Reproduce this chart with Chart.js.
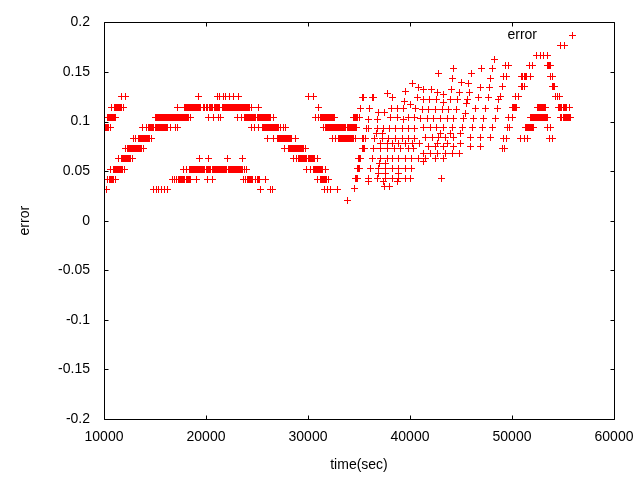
<!DOCTYPE html>
<html>
<head>
<meta charset="utf-8">
<script src="https://cdn.jsdelivr.net/npm/chart.js@4.4.1/dist/chart.umd.min.js"></script>
<style>
  html, body { margin: 0; padding: 0; background: #ffffff; }
  #wrap { width: 640px; height: 480px; }
</style>
</head>
<body>
<div id="wrap"><canvas id="c" width="640" height="480"></canvas></div>
<script>
// ---------------- data ----------------
const seriesName = "error";
const xAxisTitle = "time(sec)";
const yAxisTitle = "error";
const xTickValues = [10000, 20000, 30000, 40000, 50000, 60000];
const yTickValues = [-0.2, -0.15, -0.1, -0.05, 0, 0.05, 0.1, 0.15, 0.2];

// quantised error levels and the times (s) at which each level was recorded
const timesAt0208 = [33860];
const timesAt0313 = [10290, 14810, 15110, 15300, 15600, 15890, 16190, 25320, 26300, 26500, 31600, 31900, 32190, 32880];
const timesAt0417 = [10300, 10500, 10600, 10700, 10800, 10900, 11100,
  16700, 16900, 17100, 17300, 17400, 17500, 17600, 17700, 17800, 17900, 18100, 18200, 18300, 18400, 18500,
  19100, 20100, 20600, 23700, 23900, 24100, 24200, 24300, 24400, 24500, 24600, 24900, 25000, 25100, 25200, 25800,
  30900, 31200, 31300, 31400, 31500, 31600, 31700, 31800, 32000];
const timesAt0521 = [10600, 10900, 11000, 11100, 11200, 11300, 11400, 11500, 11600, 11700, 11800, 12000,
  17800, 18100, 18400, 18500, 18600, 18700, 18800, 18900, 19000, 19100, 19200, 19300, 19400, 19500, 19600, 19700,
  19800, 19900, 20000, 20100, 20200, 20300, 20400, 20600, 20700, 20800, 20900, 21000, 21100, 21200, 21300, 21400,
  21500, 21600, 21700, 21800, 21900, 22000, 22200, 22300, 22400, 22500, 22600, 22700, 22800, 22900, 23000, 23100,
  23200, 23300, 23400, 23500, 23600, 23800, 24000,
  29900, 30200, 30500, 30600, 30700, 30800, 30900, 31000, 31100, 31200, 31300, 31400, 31700];
const timesAt0625 = [11400, 11700, 11800, 11900, 12000, 12100, 12200, 12300, 12400, 12500, 12600, 12800,
  19400, 20200, 22100, 23600,
  28600, 28900, 29100, 29200, 29300, 29400, 29500, 29600, 29700, 29800, 29900, 30000, 30100, 30200, 30300, 30400,
  30500, 30600, 30900];
const timesAt0729 = [12100, 12300, 12400, 12500, 12600, 12700, 12800, 12900, 13000, 13100, 13200, 13300, 13400,
  13500, 13600, 13700, 13900,
  27700, 28100, 28200, 28300, 28400, 28500, 28600, 28700, 28800, 28900, 29000, 29100, 29200, 29300, 29400, 29500,
  29600, 29800, 49050, 49280];
const timesAt0833 = [12850, 13100, 13400, 13500, 13600, 13700, 13800, 13900, 14000, 14100, 14200, 14300, 14400,
  14500, 14700,
  26000, 26600, 27000, 27100, 27200, 27300, 27400, 27500, 27600, 27700, 27800, 27900, 28000, 28100, 28200, 28300,
  28400, 28800,
  32400, 32700, 33000, 33100, 33200, 33300, 33400, 33500, 33600, 33700, 33800, 33900, 34000, 34100, 34200, 34300,
  34400, 34500, 34700,
  49210, 49480, 50850, 51180, 51510, 53630, 53960];
const timesAt0938 = [10000, 10100, 10200, 10300, 10400, 10600, 13800, 14200,
  14400, 14500, 14600, 14700, 14800, 14900, 15000, 15100, 15200, 15300, 15400, 15500, 15600, 15700, 15800, 15900,
  16000, 16100, 16200, 16500, 17000, 17200,
  24500, 24800, 25100, 25500, 25600, 25700, 25800, 25900, 26000, 26100, 26200, 26300, 26400, 26500, 26600, 26700,
  26800, 26900, 27000, 27100, 27300, 27600, 27800,
  31500, 31700, 31800, 31900, 32000, 32100, 32200, 32300, 32400, 32500, 32600, 32700, 32800, 32900, 33000, 33100,
  33200, 33300, 33400, 33500, 33600, 33700, 33900, 34000, 34100, 34200, 34300, 34400, 34500, 34600, 34700, 34800,
  49550, 49800, 51300, 51400, 51500, 51600, 51700, 51800, 51900, 52000, 52100, 53470, 53800];
const timesAt1042 = [10300, 10400, 10500, 10600, 10700, 10800, 10900, 11000, 11100, 15000,
  15100, 15200, 15300, 15400, 15500, 15600, 15700, 15800, 15900, 16000, 16100, 16200, 16300, 16400, 16500, 16600,
  16700, 16800, 16900, 17000, 17100, 17200, 17300, 17400, 17500, 17600, 17700, 17800, 17900, 18000, 18100, 18200,
  18300, 18500, 20200, 20700, 21200, 21400, 23100, 23500,
  23800, 23900, 24000, 24100, 24200, 24300, 24400, 24500, 24600, 24700, 24800, 24900, 25000, 25100, 25200, 25300,
  25400, 25500, 25600, 25700, 25800, 25900, 26000, 26100, 26200, 26300, 26600,
  30700, 31000, 31200, 31300, 31400, 31500, 31600, 31700, 31800, 31900, 32000, 32100, 32200, 32300, 32400, 32500,
  32600, 34500, 34600, 34700, 34800, 34900, 35000,
  49700, 50040, 51800, 51900, 52000, 52100, 52200, 52300, 52400, 52500, 52600, 52700, 52800, 52900, 53000, 53100,
  53200, 53300, 53400, 53500, 54800, 54900, 55000, 55100, 55200, 55300, 55400, 55500, 55600, 55700];
const timesAt1146 = [10700, 11000, 11100, 11200, 11300, 11400, 11500, 11600, 11700, 11900, 17200,
  17900, 18000, 18100, 18200, 18300, 18400, 18500, 18600, 18700, 18800, 18900, 19000, 19100, 19200, 19300, 19400,
  19500, 19800, 19900, 20000, 20100, 20300, 20400, 20500, 20600, 20800, 20900, 21000, 21100, 21200, 21300,
  21600, 21700, 21800, 21900, 22000, 22100, 22200, 22300, 22400, 22500, 22600, 22700, 22800, 22900, 23000, 23100,
  23200, 23300, 23400, 23500, 23600, 23700, 23800, 23900, 24000, 24100, 24200, 24300, 24500, 25100, 31000,
  50040, 50100, 50200, 50300, 50400, 52500, 52600, 52700, 52800, 52900, 53000, 53100, 53200, 53300,
  54600, 54700, 54800, 54900, 55000, 55100, 55200, 55300, 55600];
const timesAt1250 = [11670, 12060, 19230, 21100, 21290, 21690, 21880, 22280, 22670, 23160, 30030, 30520,
  48890, 50360, 50590, 54290, 54450, 54610];
const timesAt1354 = [49050, 50920, 51050, 51180, 53960, 54100, 54190];
const timesAt1458 = [49210, 49480, 50950, 51050, 51180, 51300, 51440, 51830, 53730, 53960];
const timesAt1563 = [49380, 49700, 51670, 52000, 53470, 53550, 53630, 53720, 53800];
const timesAt1667 = [52420, 52750, 53080, 53470];
const timesAt1771 = [54780, 55100];

// middle stretch (35000–49000 s): individual readings, time and error paired by index
const midTimes = [
  40280, 40860, 39560, 37760, 35370, 35470, 36290, 36390, 38250, 40710, 39490, 40050,
  35140, 36050, 38180, 38740, 39390, 40540, 36940, 37530, 38090, 38740, 39880, 40470,
  35950, 36780, 39390, 35750, 35950, 36780, 37430, 37990, 38580, 39290, 39880, 40470,
  36680, 37270, 35340, 35440, 35630, 36540, 37270, 37920, 38580, 39290, 39880, 40470,
  37100, 37760, 38250, 38900, 39560, 40280, 40960,
  35340, 35460, 35560, 36390, 37100, 37760, 38480, 39070, 39820, 40370,
  34940, 35040, 35140, 36290, 37100, 37760, 38250, 38840, 39560, 40150, 40810,
  37010, 37590,
  34840, 34960, 35070, 36120, 36880, 37590, 38250, 38900, 39560, 40150,
  36940, 37590, 38840,
  34650, 34760, 34870, 35950, 36780, 37590, 38250, 38900, 39560, 40050,
  35900, 37430, 38740, 37530, 37990, 34580,
  48300, 44300, 47020, 48070, 42830, 46040, 44200, 47910, 45060, 45770,
  46920, 47810, 41360, 42110, 44080, 42670, 44890, 45870, 43320, 46760, 47680,
  41300, 41940, 42600, 43980, 44690, 45620, 48720, 43260, 45550,
  46430, 47410, 48620, 41200, 41850, 42500, 43160, 43810, 44570, 45450,
  41030, 41690, 42340, 43000, 43650, 44300, 45280, 46260, 47250, 48400,
  41360, 42010, 42600, 43320, 44140, 45130, 46110, 47090, 48070,
  43000, 43980, 44960,
  41520, 42180, 42830, 43490, 44300, 45940, 46920, 47910,
  42670, 43650, 44960,
  41850, 42500, 43320, 44300, 45940, 46920,
  41360, 42010, 42670, 43490, 44140, 44890,
  41520, 42500, 43320, 41300, 43090
];
const midErrors = [
  0.138, 0.134, 0.130, 0.128, 0.124, 0.124, 0.124, 0.124, 0.124, 0.124, 0.120, 0.117,
  0.113, 0.113, 0.113, 0.113, 0.113, 0.113, 0.1095, 0.1095, 0.1045, 0.1045, 0.1045, 0.1045,
  0.102, 0.102, 0.102, 0.093, 0.093, 0.093, 0.093, 0.093, 0.093, 0.093, 0.093, 0.093,
  0.0877, 0.0877, 0.0827, 0.0827, 0.0827, 0.0827, 0.0827, 0.0827, 0.0827, 0.0827, 0.0827, 0.0827,
  0.0777, 0.0777, 0.0777, 0.0777, 0.0777, 0.0777, 0.0777,
  0.0727, 0.0727, 0.0727, 0.0727, 0.0727, 0.0727, 0.0727, 0.0727, 0.0727, 0.0727,
  0.0626, 0.0626, 0.0626, 0.0626, 0.0626, 0.0626, 0.0626, 0.0626, 0.0626, 0.0626, 0.0626,
  0.0576, 0.0576,
  0.0526, 0.0526, 0.0526, 0.0526, 0.0526, 0.0526, 0.0526, 0.0526, 0.0526, 0.0526,
  0.0475, 0.0475, 0.0475,
  0.0425, 0.0425, 0.0425, 0.0425, 0.0425, 0.0425, 0.0425, 0.0425, 0.0425, 0.0425,
  0.0392, 0.0392, 0.0392, 0.0342, 0.0342, 0.0325,
  0.1621, 0.1531, 0.1531, 0.1531, 0.148, 0.148, 0.143, 0.143, 0.1397, 0.138,
  0.134, 0.134, 0.1324, 0.1324, 0.1324, 0.1296, 0.1296, 0.1296, 0.1273, 0.1246, 0.1246,
  0.1223, 0.1223, 0.1223, 0.1223, 0.1223, 0.1223, 0.1223, 0.1196, 0.1179,
  0.1129, 0.1129, 0.1129, 0.1119, 0.1119, 0.1119, 0.1119, 0.1119, 0.1119, 0.1078,
  0.1028, 0.1028, 0.1028, 0.1028, 0.1028, 0.1028, 0.1028, 0.1028, 0.1028, 0.1028,
  0.0945, 0.0945, 0.0945, 0.0945, 0.0945, 0.0945, 0.0945, 0.0945, 0.0945,
  0.0877, 0.0877, 0.0877,
  0.0844, 0.0844, 0.0844, 0.0844, 0.0844, 0.0844, 0.0844, 0.0844,
  0.0777, 0.0777, 0.0777,
  0.0744, 0.0744, 0.0744, 0.0744, 0.0744, 0.0744,
  0.0676, 0.0676, 0.0676, 0.0676, 0.0676, 0.0676,
  0.0626, 0.0626, 0.0626, 0.0593, 0.0422
];

// ---------------- build the dataset ----------------
const levelRows = [
  [0.0208, timesAt0208], [0.03125, timesAt0313], [0.0417, timesAt0417], [0.0521, timesAt0521],
  [0.0625, timesAt0625], [0.0729, timesAt0729], [0.0833, timesAt0833], [0.09375, timesAt0938],
  [0.1042, timesAt1042], [0.1146, timesAt1146], [0.125, timesAt1250], [0.1354, timesAt1354],
  [0.1458, timesAt1458], [0.1563, timesAt1563], [0.1667, timesAt1667], [0.1771, timesAt1771]
];
const points = [];
levelRows.forEach(([v, ts]) => ts.forEach(t => points.push({ x: t, y: v })));
midTimes.forEach((t, i) => points.push({ x: t, y: midErrors[i] }));

const FONT = "'Liberation Sans', Arial, sans-serif";
const RED = "#ff0000";

// crisp 1-px "+" marker like gnuplot's point type 1
function makePlus(size, color) {
  const c = document.createElement("canvas");
  c.width = size; c.height = size;
  const g = c.getContext("2d");
  g.fillStyle = color;
  const m = Math.floor(size / 2);
  g.fillRect(0, m, size, 1);
  g.fillRect(m, 0, 1, size);
  return c;
}
const plusMarker = makePlus(7, RED);

const crispPlugin = {
  id: "crispPoints",
  beforeDatasetsDraw(chart) { chart.ctx.save(); chart.ctx.imageSmoothingEnabled = false; },
  afterDatasetsDraw(chart) { chart.ctx.restore(); }
};

// gnuplot-like frame: full border, inward ticks on all four sides, key inside top right
const framePlugin = {
  id: "gnuplotFrame",
  afterDraw(chart) {
    const { ctx, chartArea: a, scales } = chart;
    const L = Math.round(a.left) + 0.5, R = Math.round(a.right) + 0.5;
    const T = Math.round(a.top) + 0.5, B = Math.round(a.bottom) + 0.5;
    const tick = 4;
    ctx.save();
    ctx.strokeStyle = "#000";
    ctx.lineWidth = 1;
    ctx.beginPath();
    ctx.rect(L, T, R - L, B - T);
    scales.x.ticks.forEach(tk => {
      const px = Math.round(scales.x.getPixelForValue(tk.value)) + 0.5;
      ctx.moveTo(px, B); ctx.lineTo(px, B - tick);
      ctx.moveTo(px, T); ctx.lineTo(px, T + tick);
    });
    scales.y.ticks.forEach(tk => {
      const py = Math.round(scales.y.getPixelForValue(tk.value)) + 0.5;
      ctx.moveTo(L, py); ctx.lineTo(L + tick, py);
      ctx.moveTo(R, py); ctx.lineTo(R - tick, py);
    });
    ctx.stroke();
    // key: label text followed by the point sample
    const ky = a.top + 13;
    ctx.fillStyle = "#000";
    ctx.font = "14px " + FONT;
    ctx.textAlign = "right";
    ctx.textBaseline = "middle";
    ctx.fillText(chart.data.datasets[0].label, a.right - 77, ky - 0.5);
    ctx.drawImage(plusMarker, Math.round(a.right - 42) - 3, Math.round(ky) - 3);
    ctx.restore();
  }
};

Chart.defaults.font.family = FONT;
Chart.defaults.font.size = 14;
Chart.defaults.color = "#000";

new Chart(document.getElementById("c"), {
  type: "scatter",
  data: {
    datasets: [{
      label: seriesName,
      data: points,
      showLine: false,
      pointStyle: plusMarker,
      pointRadius: 3.5,
      pointHoverRadius: 3.5,
      pointBorderWidth: 1,
      pointBorderColor: RED,
      pointBackgroundColor: RED
    }]
  },
  options: {
    responsive: false,
    devicePixelRatio: 1,
    animation: false,
    events: [],
    layout: { padding: { top: 20, right: 26, left: 0, bottom: 0 } },
    plugins: { legend: { display: false }, tooltip: { enabled: false } },
    scales: {
      x: {
        type: "linear",
        min: xTickValues[0],
        max: xTickValues[xTickValues.length - 1],
        afterBuildTicks: s => { s.ticks = xTickValues.map(v => ({ value: v })); },
        afterFit: s => { s.height = 61; },
        grid: { display: false, drawTicks: true, tickLength: 4 },
        border: { display: false },
        ticks: { color: "#000", font: { size: 14 }, padding: 6, maxRotation: 0, autoSkip: false,
                 callback: v => String(v) },
        title: { display: true, text: xAxisTitle, color: "#000", font: { size: 14 },
                 padding: { top: 0, bottom: 6.6 } }
      },
      y: {
        type: "linear",
        min: yTickValues[0],
        max: yTickValues[yTickValues.length - 1],
        afterBuildTicks: s => { s.ticks = yTickValues.map(v => ({ value: v })); },
        afterFit: s => { s.width = 104; },
        grid: { display: false, drawTicks: false, tickLength: 0 },
        border: { display: false },
        ticks: { color: "#000", font: { size: 14 }, padding: 14, autoSkip: false,
                 callback: v => String(Math.round(v * 100) / 100) },
        title: { display: true, text: yAxisTitle, color: "#000", font: { size: 14 },
                 padding: { top: 16.6, bottom: 0 } }
      }
    }
  },
  plugins: [crispPlugin, framePlugin]
});
</script>
</body>
</html>
